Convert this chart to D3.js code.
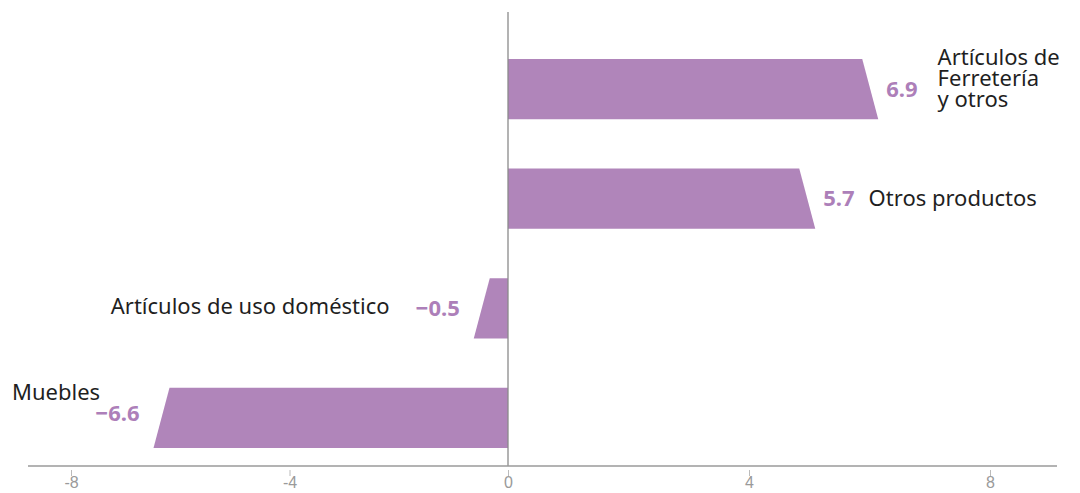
<!DOCTYPE html>
<html>
<head>
<meta charset="utf-8">
<script src="https://cdn.jsdelivr.net/npm/d3@7"></script>
<style>
  html, body { margin: 0; padding: 0; background: #fff; }
  svg { display: block; font-family: "Noto Sans", "Open Sans", sans-serif; }
  .cat { fill: #1f1f1f; font-size: 22px; }
  .val { fill: #ad7fb9; font-size: 22px; font-weight: 700; }
  .tick text { fill: #9a9a9a; font-size: 16px; font-weight: 300; }
</style>
</head>
<body>
<svg id="chart" width="1080" height="493"></svg>
<script>
const categories = ['Artículos de Ferretería y otros', 'Otros productos', 'Artículos de uso doméstico', 'Muebles'];
const values = [6.9, 5.7, -0.5, -6.6];
const valueLabels = ['6.9', '5.7', '−0.5', '−6.6'];
const tickValues = [-8, -4, 0, 4, 8];
const tickLabels = ['-8', '-4', '0', '4', '8'];

const BAR = '#b085ba';
const svg = d3.select('#chart');

// bars and axis don't share one exact scale in the original graphic
const x = d3.scaleLinear().domain([0, 1]).range([508, 560.5]);
const xAxisScale = d3.scaleLinear().domain([-8, 0, 8]).range([71, 508, 990]);
const y = d3.scaleBand().domain(categories).range([59, 448]).paddingInner(0.45).paddingOuter(0);

const SLANT = 16;

// bars with slanted outer end (bottom edge reaches further out)
svg.append('g').selectAll('path')
  .data(values)
  .join('path')
  .attr('fill', BAR)
  .attr('d', (v, i) => {
    const y0 = y(categories[i]), y1 = y0 + y.bandwidth();
    const x0 = x(0), xe = x(v), s = v >= 0 ? SLANT / 2 : -SLANT / 2;
    return `M${x0},${y0}L${xe - s},${y0}L${xe + s},${y1}L${x0},${y1}Z`;
  });

// zero line
svg.append('line')
  .attr('x1', x(0)).attr('x2', x(0))
  .attr('y1', 12).attr('y2', 466)
  .attr('stroke', '#8a8a8a').attr('stroke-width', 1.3);

// bottom axis
const axis = svg.append('g').attr('transform', 'translate(0,466)')
  .call(d3.axisBottom(xAxisScale).tickValues(tickValues)
    .tickFormat((d, i) => tickLabels[i]).tickSize(0).tickPadding(11));
axis.select('.domain').remove();
axis.append('line').attr('x1', 28).attr('x2', 1057)
  .attr('stroke', '#9a9a9a').attr('stroke-width', 1.3);
axis.selectAll('.tick').append('line')
  .attr('y1', 4).attr('y2', 10).attr('stroke', '#bbb');

// value + category labels
const gLab = svg.append('g');
values.forEach((v, i) => {
  const cy = y(categories[i]) + y.bandwidth() / 2;
  const pos = v >= 0;
  const vx = pos ? x(v) + SLANT / 2 + 8 : x(v) - SLANT / 2 - 14;
  const vt = gLab.append('text').attr('class', 'val')
    .attr('x', vx).attr('y', cy).attr('dy', '0.35em')
    .attr('text-anchor', pos ? 'start' : 'end')
    .text(valueLabels[i]);
  const bb = vt.node().getBBox();
  if (i === 0) {
    // wrapped label, three lines
    const lx = bb.x + bb.width + 20;
    const t = gLab.append('text').attr('class', 'cat')
      .attr('x', lx).attr('y', cy - 24).attr('dy', '0.35em');
    ['Artículos de', 'Ferretería', 'y otros'].forEach((ln, k) => {
      t.append('tspan').attr('x', lx).attr('dy', k ? 21 : 0).text(ln);
    });
  } else if (i === 3) {
    vt.attr('y', cy - 5);
    gLab.append('text').attr('class', 'cat')
      .attr('x', 12).attr('y', cy - 26).attr('dy', '0.35em')
      .text(categories[i]);
  } else if (pos) {
    gLab.append('text').attr('class', 'cat')
      .attr('x', bb.x + bb.width + 14).attr('y', cy).attr('dy', '0.35em')
      .text(categories[i]);
  } else {
    gLab.append('text').attr('class', 'cat')
      .attr('x', bb.x - 26).attr('y', cy - 2).attr('dy', '0.35em')
      .attr('text-anchor', 'end')
      .text(categories[i]);
  }
});
</script>
</body>
</html>
